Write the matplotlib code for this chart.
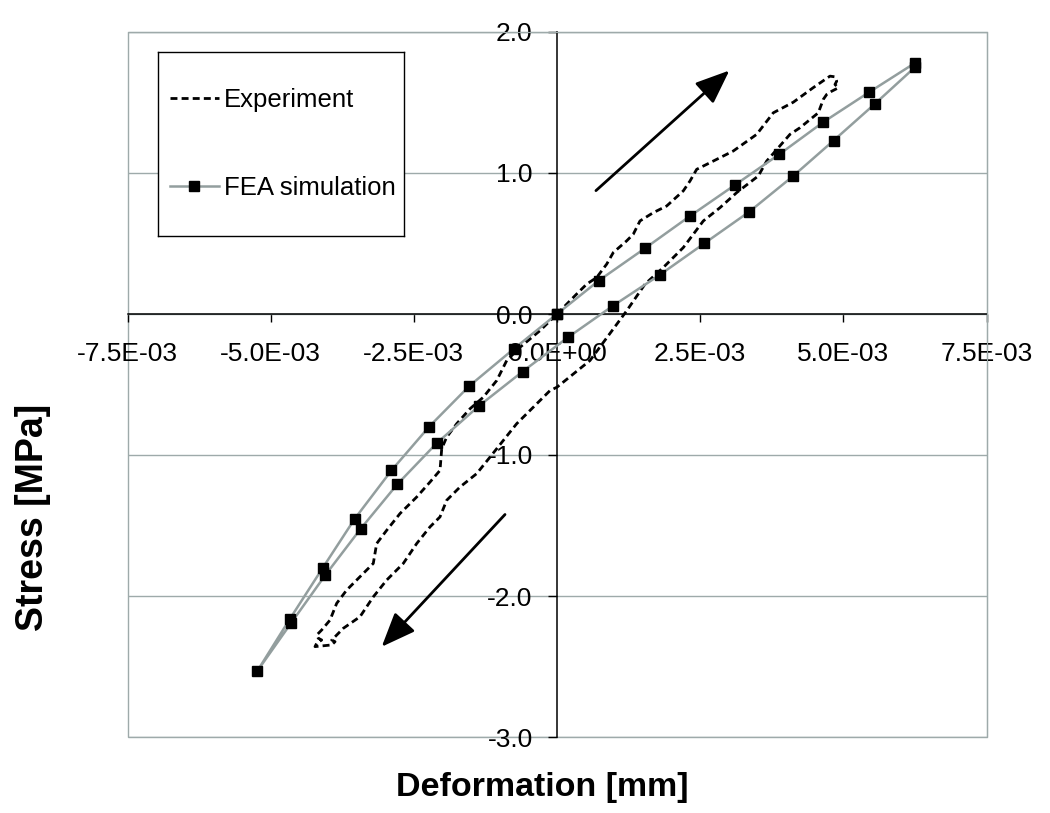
import matplotlib.pyplot as plt
import matplotlib.ticker as mticker
from matplotlib.patches import Rectangle
import numpy as np

plt.rcParams['font.family'] = ['Liberation Sans', 'DejaVu Sans']

# measured hysteresis loop (x in 1e-3 mm)
exp_x = np.array([0, 0.344, 0.519, 0.693, 0.868, 0.983, 1.217, 1.332, 1.449, 1.682, 1.915, 2.205, 2.322,
                  2.439, 2.672, 3.078, 3.487, 3.777, 4.126, 4.470, 4.680, 4.767, 4.854, 4.884, 4.854,
                  4.912, 4.797, 4.709, 4.650, 4.563, 4.243, 4.068, 3.662, 3.515, 3.138, 2.846, 2.555,
                  2.205, 1.856, 1.537, 1.217, 0.576, 0.0, -0.122, -0.471, -0.704, -0.938, -1.170,
                  -1.402, -1.694, -1.926, -2.043, -2.218, -2.450, -2.684, -2.974, -3.208, -3.440,
                  -3.731, -3.876, -3.934, -3.876, -3.934, -4.226, -4.196, -4.109, -4.168, -4.196,
                  -4.109, -3.964, -3.847, -3.673, -3.383, -3.208, -3.149, -2.974, -2.741, -2.450,
                  -2.218, -2.043, -2.013, -1.926, -1.751, -1.519, -1.287, -1.053, -0.878, -0.646,
                  -0.297, 0]) * 1e-3
exp_y = [0, 0.142, 0.212, 0.259, 0.354, 0.436, 0.519, 0.566, 0.660, 0.719, 0.766, 0.873, 0.943,
         1.026, 1.073, 1.156, 1.274, 1.427, 1.502, 1.604, 1.663, 1.687, 1.682, 1.651, 1.628,
         1.604, 1.580, 1.557, 1.522, 1.427, 1.321, 1.274, 1.085, 0.979, 0.861, 0.754, 0.660,
         0.471, 0.330, 0.212, 0.023, -0.330, -0.519, -0.543, -0.684, -0.778, -0.897, -1.015,
         -1.132, -1.227, -1.321, -1.439, -1.510, -1.628, -1.769, -1.887, -2.006, -2.147,
         -2.229, -2.289, -2.312, -2.324, -2.347, -2.359, -2.335, -2.312, -2.300, -2.277,
         -2.241, -2.171, -2.052, -1.958, -1.840, -1.769, -1.628, -1.534, -1.415, -1.298,
         -1.192, -1.109, -0.955, -0.873, -0.778, -0.672, -0.590, -0.472, -0.330, -0.236,
         -0.118, 0]

# FEA loop (x in 1e-3 mm)
fea_x = np.array([0, 0.73, 1.54, 2.32, 3.10, 3.88, 4.65, 5.45, 6.25, 6.25, 5.55, 4.83, 4.12, 3.36,
                  2.57, 1.79, 0.98, 0.19, -0.60, -1.36, -2.10, -2.79, -3.43, -4.05, -4.64, -5.23,
                  -4.67, -4.09, -3.53, -2.89, -2.23, -1.53, -0.75, 0]) * 1e-3
fea_y = [0, 0.237, 0.467, 0.694, 0.913, 1.132, 1.361, 1.573, 1.78, 1.75, 1.49, 1.23, 0.977, 0.726,
         0.50, 0.276, 0.059, -0.166, -0.408, -0.651, -0.916, -1.208, -1.524, -1.854, -2.19, -2.53,
         -2.166, -1.80, -1.451, -1.109, -0.798, -0.51, -0.246, 0]

x_ticks = [-7.5e-3, -5.0e-3, -2.5e-3, 0.0, 2.5e-3, 5.0e-3, 7.5e-3]
y_ticks = [-3, -2, -1, 0, 1, 2]

# loading / unloading arrows (tail, tip)
arrow_up = ((0.68e-3, 0.875), (3.01e-3, 1.727))
arrow_down = ((-0.908e-3, -1.422), (-3.061e-3, -2.360))

grid_col = '#9eaaaa'
fea_col = '#939e9e'

fig = plt.figure(figsize=(10.5, 8.13), dpi=100)
ax = fig.add_axes([127.5 / 1050, 1 - 737 / 813, 859 / 1050, 705 / 813])

l_exp, = ax.plot(exp_x, exp_y, color='black', lw=2.0, dashes=(2.5, 1.5), label='Experiment')
l_fea, = ax.plot(fea_x, fea_y, color=fea_col, lw=1.8, marker='s', markersize=6.8,
                 markerfacecolor='black', markeredgecolor='black', label='FEA simulation')

for tail, tip in (arrow_up, arrow_down):
    ax.annotate('', xy=tip, xytext=tail,
                arrowprops=dict(arrowstyle='-|>,head_length=0.42,head_width=0.17',
                                mutation_scale=50, color='black', lw=2, shrinkA=0, shrinkB=0))

ax.set_xlim(-7.5e-3, 7.5e-3)
ax.set_ylim(-3, 2)
ax.set_xticks(x_ticks)
ax.set_yticks(y_ticks)
ax.xaxis.set_major_formatter(mticker.FuncFormatter(lambda v, p: f'{v:.1E}'))
ax.yaxis.set_major_formatter(mticker.FuncFormatter(lambda v, p: f'{v:.1f}'))

ax.spines['left'].set_position(('data', 0))
ax.spines['bottom'].set_position(('data', 0))
for s in ('left', 'bottom'):
    ax.spines[s].set_color('black')
    ax.spines[s].set_linewidth(1.1)
    ax.spines[s].set_zorder(1.5)
for s in ('top', 'right'):
    ax.spines[s].set_color(grid_col)
ax.add_patch(Rectangle((0, 0), 1, 1, transform=ax.transAxes, fill=False,
                       edgecolor=grid_col, lw=1, zorder=0.5, clip_on=False))

ax.tick_params(axis='x', direction='out', length=6, width=1, labelsize=19, pad=14.5)
ax.tick_params(axis='y', direction='out', length=6.5, width=1, labelsize=19, pad=11)
ax.yaxis.grid(True, color=grid_col, lw=1)
ax.set_axisbelow(True)

fig.text(542 / 1050, 1 - 787 / 813, 'Deformation [mm]', fontsize=24.5, fontweight='bold',
         ha='center', va='center')
fig.text(33 / 1050, 1 - 517 / 813, 'Stress [MPa]', fontsize=27, fontweight='bold',
         ha='center', va='center', rotation=90)

# legend box
lax = fig.add_axes([158.3 / 1050, 1 - 236 / 813, 245.7 / 1050, 184.3 / 813])
lax.set_xticks([])
lax.set_yticks([])
for s in lax.spines.values():
    s.set_color('black')
    s.set_linewidth(1)
lax.legend(handles=[l_exp, l_fea], loc='center left', frameon=False, fontsize=18.5,
           labelspacing=2.5, handlelength=1.9, handletextpad=0.22, borderaxespad=0.05,
           borderpad=0.4, numpoints=1)

fig.savefig('out.png', dpi=100)
